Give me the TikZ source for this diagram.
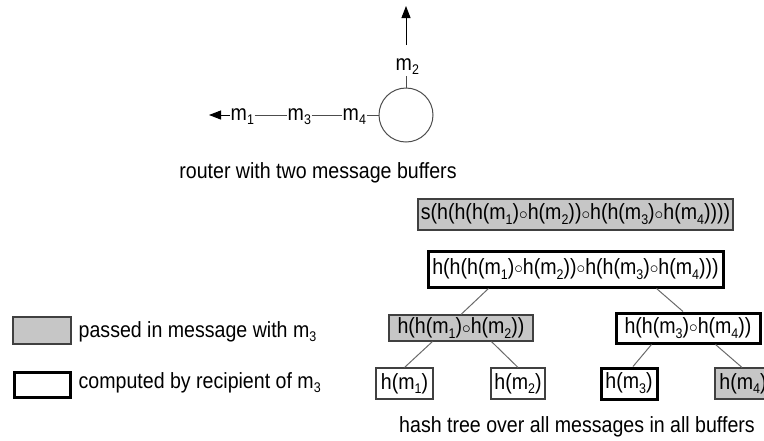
\documentclass[tikz,border=0pt]{standalone}
\usepackage{fontspec}
\usepackage{graphicx}
\setmainfont[FakeStretch=0.89]{Liberation Sans}
\usetikzlibrary{arrows.meta,calc}

% subscript and composition operator
\newcommand\ix[1]{\raisebox{-0.22em}{\fontsize{14}{14}\selectfont #1}}
\newcommand\cmp{\raisebox{0.5pt}{\fontsize{16}{16}\selectfont$\circ$}}

\definecolor{boxgray}{HTML}{C6C6C6}
\definecolor{edgegray}{HTML}{6A6A6A}

\tikzset{
  txt/.style={font=\fontsize{22}{24}\selectfont, inner sep=0.5pt},
  hashbox/.style={txt, inner sep=0pt, minimum width=#1},
  passed/.style={fill=boxgray, draw=black!75, line width=1.1pt},
  computed/.style={fill=white, draw=black, line width=3pt},
  plain/.style={fill=white, draw=black!75, line width=1.1pt},
  edge/.style={draw=edgegray, line width=1pt},
  wire/.style={draw=black!70, line width=1pt},
  tip/.style={-{Triangle[length=12pt,width=9pt]}, draw=black, line width=1pt}
}

\begin{document}
\begin{tikzpicture}[x=1pt,y=-1pt]
\useasboundingbox (0,0) rectangle (764,440);
\clip (0,0) rectangle (764,440);

% ---- router with two message buffers ----
\node[draw=black!70, line width=1pt, circle, minimum size=54pt, inner sep=0pt] (router) at (406,115) {};
\node[txt, anchor=base west] (m1) at (230,120) {m\ix1};
\node[txt, anchor=base west] (m3) at (287,120) {m\ix3};
\node[txt, anchor=base west] (m4) at (342,120) {m\ix4};
\node[txt, anchor=base west] (m2) at (395,70) {m\ix2};
\coordinate (lefttip) at (209,117);
\coordinate (uptip) at (406,6);
\coordinate (upstart) at (406,45);

\draw[wire] (m1.east |- router.west) -- (m3.west |- router.west);
\draw[wire] (m3.east |- router.west) -- (m4.west |- router.west);
\draw[wire] (m4.east |- router.west) -- (router.west);
\draw[wire] (router.north) -- (m2.south -| router.north);
\draw[tip] (m1.west |- router.west) -- (lefttip |- router.west);
\draw[tip] (upstart) -- (uptip);

\node[txt, anchor=base] (cap1) at (318,178) {router with two message buffers};

% ---- hash tree ----
\node[hashbox=315pt, minimum height=31pt, passed] (sig) at (575.5,214.5)
  {s(h(h(h(m\ix1)\cmp h(m\ix2))\cmp h(h(m\ix3)\cmp h(m\ix4))))};
\node[hashbox=295pt, minimum height=36pt, computed] (top) at (575.5,269)
  {h(h(h(m\ix1)\cmp h(m\ix2))\cmp h(h(m\ix3)\cmp h(m\ix4)))};
\node[hashbox=144pt, minimum height=26pt, passed] (left) at (461,328)
  {h(h(m\ix1)\cmp h(m\ix2))};
\node[hashbox=144pt, minimum height=30pt, computed] (right) at (688,328)
  {h(h(m\ix3)\cmp h(m\ix4))};
\node[hashbox=57pt, minimum height=31pt, plain] (l1) at (404.5,383.5) {h(m\ix1)};
\node[hashbox=54pt, minimum height=31pt, plain] (l2) at (518,383.5) {h(m\ix2)};
\node[hashbox=56pt, minimum height=31pt, computed] (l3) at (629,383.5) {h(m\ix3)};
\node[hashbox=56pt, minimum height=31pt, passed] (l4) at (743,383.5) {h(m\ix4)};

\draw[edge] ($(top.south west)+(62,0)$) -- (left.north);
\draw[edge] ($(top.south west)+(230,0)$) -- ($(right.north)+(-5,0)$);
\draw[edge] ($(left.south west)+(44,0)$) -- (l1.north);
\draw[edge] ($(left.south west)+(103,0)$) -- (l2.north);
\draw[edge] ($(right.south west)+(37,0)$) -- ($(l3.north)+(4,0)$);
\draw[edge] ($(right.south west)+(101,0)$) -- ($(l4.north)+(-1,0)$);

\node[txt, anchor=base] (cap2) at (577,432) {hash tree over all messages in all buffers};

% ---- legend ----
\node[passed, minimum width=58pt, minimum height=27pt, inner sep=0pt] (keyp) at (42,330.5) {};
\node[computed, minimum width=56pt, minimum height=25pt, inner sep=0pt] (keyc) at (42,384.5) {};
\node[txt, anchor=base west] (keyptxt) at (78,337) {passed in message with m\ix3};
\node[txt, anchor=base west] (keyctxt) at (78,388) {computed by recipient of m\ix3};
\end{tikzpicture}
\end{document}
